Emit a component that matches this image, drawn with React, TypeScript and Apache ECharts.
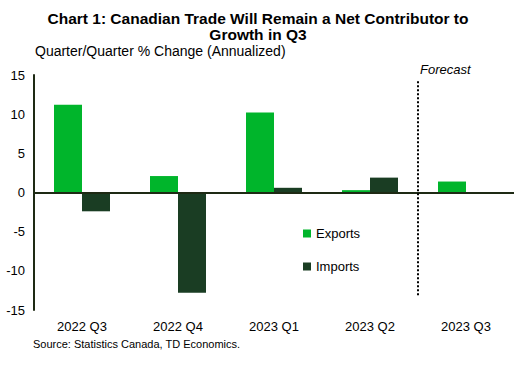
import React, { useEffect, useRef } from "react";
import * as echarts from "echarts";

const categories = ["2022 Q3", "2022 Q4", "2023 Q1", "2023 Q2", "2023 Q3"];
const exportsData = [11.2, 2.1, 10.2, 0.3, 1.4];
const importsData: (number | null)[] = [-2.4, -12.8, 0.6, 1.9, null];
const forecastStart = 4;
const yTicks = { min: -15, max: 15, interval: 5 };
const titleLines = ["Chart 1: Canadian Trade Will Remain a Net Contributor to", "Growth in Q3"];

const FONT = "'Liberation Sans', Arial, sans-serif";
const GREEN = "#00B52B";
const DARK = "#1A3D23";
const AXIS = "#1E2A14";

export default function App() {
  const ref = useRef<HTMLDivElement>(null);
  useEffect(() => {
    document.body.style.margin = "0";
    if (!ref.current) return;
    const chart = echarts.init(ref.current, undefined, { renderer: "svg" });
    chart.setOption({
      animation: false,
      backgroundColor: "#ffffff",
      textStyle: { fontFamily: FONT },
      title: titleLines.map((t, i) => ({
        text: t,
        left: "center",
        top: 11 + i * 15.5,
        padding: 0,
        textStyle: { fontFamily: FONT, fontSize: 15.5, fontWeight: "bold", color: "#000", lineHeight: 15.5 },
      })),
      legend: {
        orient: "vertical",
        left: 298,
        top: 222,
        itemWidth: 8,
        itemHeight: 8,
        itemGap: 20,
        icon: "rect",
        textStyle: { fontFamily: FONT, fontSize: 13, color: "#000" },
        data: ["Exports", "Imports"],
      },
      grid: { left: 34, right: 2, top: 75, bottom: 75, containLabel: false },
      xAxis: [
        {
          type: "category",
          data: categories,
          position: "bottom",
          axisLine: { show: false },
          axisTick: { show: false },
          axisLabel: { fontFamily: FONT, fontSize: 13, color: "#000", margin: 10 },
        },
        { type: "value", min: 0, max: categories.length, show: false },
      ],
      yAxis: {
        type: "value",
        min: yTicks.min,
        max: yTicks.max,
        interval: yTicks.interval,
        axisLine: { show: true, lineStyle: { color: AXIS, width: 2 } },
        axisTick: { show: false },
        splitLine: { show: false },
        axisLabel: { fontFamily: FONT, fontSize: 13, color: "#000", margin: 9 },
      },
      series: [
        {
          name: "Exports",
          type: "bar",
          data: exportsData,
          barWidth: 28,
          barGap: "0%",
          itemStyle: { color: GREEN },
          markLine: {
            silent: true,
            symbol: "none",
            label: { show: false },
            lineStyle: { color: AXIS, width: 2, type: "solid" },
            data: [{ yAxis: 0 }],
          },
        },
        {
          name: "Imports",
          type: "bar",
          data: importsData,
          barWidth: 28,
          barGap: "0%",
          itemStyle: { color: DARK },
        },
        {
          name: "forecast",
          type: "line",
          xAxisIndex: 1,
          data: [],
          markLine: {
            silent: true,
            symbol: "none",
            label: { show: false },
            lineStyle: { color: "#000", width: 2, type: [2, 2] },
            data: [[{ coord: [forecastStart, 14.2] }, { coord: [forecastStart, -13.2] }]],
          },
        },
      ],
      graphic: [
        {
          type: "text",
          left: 35,
          top: 44,
          style: { text: "Quarter/Quarter % Change (Annualized)", fontFamily: FONT, fontSize: 14, fill: "#000" },
        },
        {
          type: "text",
          left: 420,
          top: 63,
          style: { text: "Forecast", fontFamily: FONT, fontSize: 13, fontStyle: "italic", fill: "#000" },
        },
        {
          type: "text",
          left: 33,
          top: 338,
          style: { text: "Source: Statistics Canada, TD Economics.", fontFamily: FONT, fontSize: 11, fill: "#000" },
        },
      ],
    });
    return () => chart.dispose();
  }, []);
  return <div ref={ref} style={{ width: 516, height: 385 }} />;
}
